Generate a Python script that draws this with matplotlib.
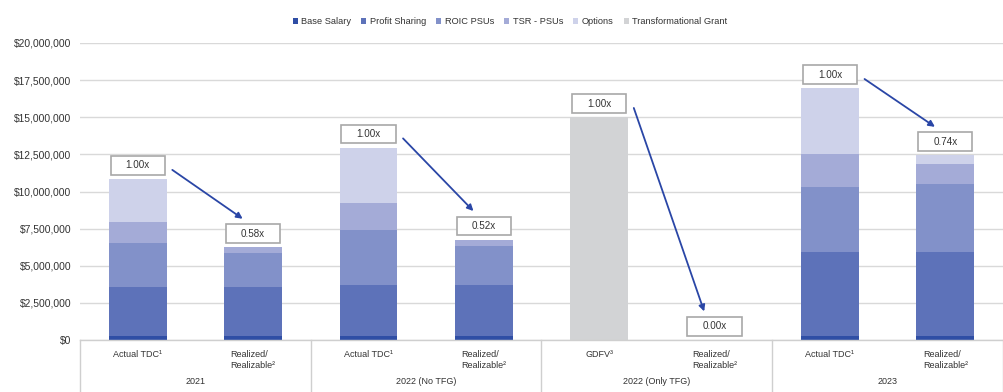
import matplotlib
matplotlib.use("Agg")
import matplotlib.pyplot as plt
from matplotlib.patches import Rectangle, Patch
from matplotlib.ticker import FuncFormatter
import numpy as np

plt.rcParams['font.family'] = ['Liberation Sans', 'DejaVu Sans']

# ---- data ----
bar_labels = ["Actual TDC\u00b9", "Realized/\nRealizable\u00b2",
              "Actual TDC\u00b9", "Realized/\nRealizable\u00b2",
              "GDFV\u00b3", "Realized/\nRealizable\u00b2",
              "Actual TDC\u00b9", "Realized/\nRealizable\u00b2"]
group_labels = ["2021", "2022 (No TFG)", "2022 (Only TFG)", "2023"]
series_names = ["Base Salary", "Profit Sharing", "ROIC PSUs", "TSR - PSUs",
                "Options", "Transformational Grant"]
base_salary = [300000, 300000, 300000, 300000, 0, 0, 300000, 300000]
profit_sharing = [3300000, 3300000, 3400000, 3400000, 0, 0, 5600000, 5600000]
roic_psus = [2900000, 2280000, 3700000, 2630000, 0, 0, 4430000, 4600000]
tsr_psus = [1460000, 360000, 1820000, 430000, 0, 0, 2200000, 1370000]
options = [2870000, 0, 3730000, 0, 0, 0, 4420000, 560000]
transformational = [0, 0, 0, 0, 15000000, 0, 0, 0]
multiples = ["1.00x", "0.58x", "1.00x", "0.52x", "1.00x", "0.00x", "1.00x", "0.74x"]

colors = ["#2f4ea5", "#5d72b9", "#8291c9", "#a4abd7", "#ced2ea", "#d2d3d5"]

# ---- figure ----
fig = plt.figure(figsize=(10.04, 3.92), dpi=100)
ax = fig.add_axes([80 / 1004, 52 / 392, 923 / 1004, 297 / 392])

x = np.arange(len(bar_labels))
series = [base_salary, profit_sharing, roic_psus, tsr_psus, options, transformational]
bottom = np.zeros(len(x))
width = 0.5
for vals, col in zip(series, colors):
    v = np.array(vals, dtype=float)
    ax.bar(x, v, width=width, bottom=bottom, color=col, edgecolor='none', zorder=2)
    bottom += v
totals = bottom

ax.set_xlim(-0.5, len(x) - 0.5)
ax.set_ylim(0, 20000000)
ax.set_yticks(np.arange(0, 20000001, 2500000))
ax.yaxis.set_major_formatter(FuncFormatter(lambda v, p: "${:,.0f}".format(v)))
ax.tick_params(axis='y', length=0, labelsize=7.4, labelcolor="#333333", pad=6)
ax.set_xticks([])
ax.grid(axis='y', color="#d9d9d9", linewidth=1.0, zorder=0)
for s in ['top', 'right', 'left']:
    ax.spines[s].set_visible(False)
ax.spines['bottom'].set_color("#cfcfcf")
ax.spines['bottom'].set_linewidth(1.0)

# multiple boxes
box_w = 0.47
box_h = 1250000
gap = 300000
box_centers = []
for xi, tot, lab in zip(x, totals, multiples):
    b = tot + gap
    ax.add_patch(Rectangle((xi - box_w / 2, b), box_w, box_h, facecolor='white',
                           edgecolor="#a8a8a8", linewidth=1.2, zorder=4))
    cy = b + box_h / 2
    box_centers.append(cy)
    ax.text(xi, cy, lab, ha='center', va='center', fontsize=7.1, color="#333333", zorder=5)

# arrows
for i in range(0, len(x), 2):
    x0 = x[i] + 0.30
    y0 = box_centers[i] - 300000
    x1 = x[i + 1] - 0.09
    y1 = box_centers[i + 1] + 1000000
    ax.annotate("", xy=(x1, y1), xytext=(x0, y0),
                arrowprops=dict(arrowstyle="-|>", color="#2a46a6", lw=1.3,
                                mutation_scale=9, shrinkA=0, shrinkB=0), zorder=6)

# category labels below
trans = ax.get_xaxis_transform()
for xi, lab in zip(x, bar_labels):
    ax.text(xi, -0.035, lab, transform=trans, ha='center', va='top', fontsize=6.5,
            color="#333333", multialignment='left', linespacing=1.25, clip_on=False)
for gi, lab in enumerate(group_labels):
    ax.text(2 * gi + 0.5, -0.125, lab, transform=trans, ha='center', va='top',
            fontsize=6.5, color="#333333", clip_on=False)
for sep in [-0.5, 1.5, 3.5, 5.5, 7.5]:
    ax.plot([sep, sep], [0, -0.2], transform=trans, color="#cfcfcf", lw=1.0,
            clip_on=False, zorder=1)

# legend
handles = [Patch(facecolor=c, edgecolor='none') for c in colors]
fig.legend(handles, series_names, loc='center', bbox_to_anchor=(510 / 1004, 1 - 22 / 392),
           ncol=6, frameon=False, fontsize=6.7, handlelength=0.55, handleheight=0.55,
           handletextpad=0.35, columnspacing=1.1, labelcolor="#333333")

fig.savefig("out.png", dpi=100)
